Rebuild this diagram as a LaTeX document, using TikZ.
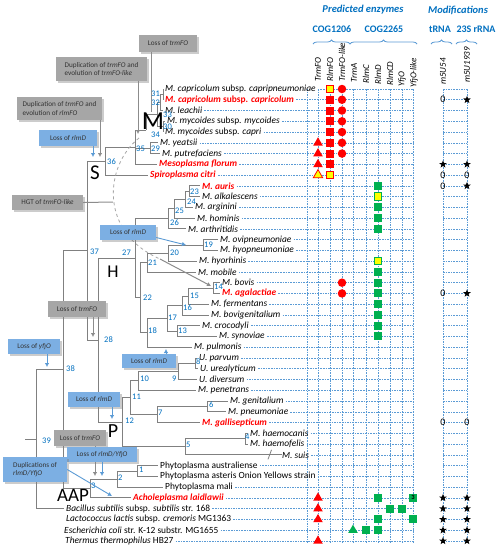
\documentclass[tikz,border=0pt]{standalone}
\usepackage{fontspec}
\setmainfont{Carlito}
\usetikzlibrary{shapes.geometric,arrows.meta,decorations.pathreplacing,shadows,calc}
\definecolor{gridblue}{RGB}{91,155,213}
\definecolor{numblue}{RGB}{0,112,192}
\definecolor{boxblue}{RGB}{124,175,227}
\definecolor{boxgray}{RGB}{166,166,166}
\definecolor{treegray}{RGB}{128,128,128}
\definecolor{sred}{RGB}{255,0,0}
\definecolor{sgreen}{RGB}{0,176,80}
\definecolor{syellow}{RGB}{255,255,0}
\newcommand{\RY}[1]{\fpeval{89+(#1-1)*10.76}}
\begin{document}
\begin{tikzpicture}[x=1pt,y=-1pt,
  sp/.style={anchor=west,inner sep=0pt,font=\fontsize{9.4}{10}\selectfont},
  spr/.style={sp,text=sred,font=\fontsize{9.4}{10}\selectfont\bfseries},
  num/.style={anchor=west,inner sep=0pt,text=numblue,font=\fontsize{8.5}{9}\selectfont},
  bigl/.style={inner sep=0pt,font=\fontsize{#1}{#1}\selectfont},
  tree/.style={draw=treegray,line width=0.8pt},
  rowline/.style={draw=gridblue,line width=0.6pt,dash pattern=on 1.6pt off 1pt},
  gbox/.style={fill=boxgray,text=black!80,font=\fontsize{7.2}{8.5}\selectfont,align=left,inner sep=0pt,drop shadow={shadow xshift=1.5pt,shadow yshift=-1.5pt,opacity=0.4}},
  bbox/.style={gbox,fill=boxblue},
  garr/.style={draw=gray!90,line width=1pt,-{Latex[length=4pt,width=4.5pt]}},
  gline/.style={draw=gray!90,line width=1pt},
  barr/.style={draw=gridblue,line width=0.9pt,-{Latex[length=4pt,width=4.5pt]}},
  hdr/.style={text=numblue,font=\fontsize{10}{11}\selectfont\bfseries,inner sep=0pt},
  colh/.style={rotate=90,anchor=west,inner sep=0pt,font=\fontsize{9}{10}\selectfont\itshape},
  rsq/.style={rectangle,fill=sred,inner sep=0pt,minimum size=8pt},
  gsq/.style={rectangle,fill=sgreen,inner sep=0pt,minimum size=8pt},
  ysqr/.style={rectangle,fill=syellow,draw=sred,line width=0.8pt,inner sep=0pt,minimum size=7.5pt},
  ysqg/.style={rectangle,fill=syellow,draw=sgreen,line width=1pt,inner sep=0pt,minimum size=7.5pt},
  rcirc/.style={circle,fill=sred,inner sep=0pt,minimum size=8.5pt},
  rtri/.style={regular polygon,regular polygon sides=3,fill=sred,inner sep=0pt,minimum size=11pt},
  gtri/.style={regular polygon,regular polygon sides=3,fill=sgreen,inner sep=0pt,minimum size=11pt},
  ytri/.style={regular polygon,regular polygon sides=3,fill=syellow,draw=sred,line width=0.8pt,inner sep=0pt,minimum size=11pt},
  bstar/.style={star,star points=5,star point ratio=2.4,fill=black,inner sep=0pt,minimum size=8pt},
  zero/.style={inner sep=0pt,font=\fontsize{10}{10}\selectfont}
]
\useasboundingbox (0,0) rectangle (499,550);
\fill[white] (0,0) rectangle (499,550);

% ---------- headers ----------
\node[hdr,font=\fontsize{10.5}{11}\selectfont\bfseries\itshape] (hpe) at (363,10) {Predicted enzymes};
\node[hdr,font=\fontsize{10.5}{11}\selectfont\bfseries\itshape] (hmo) at (458,10) {Modifications};
\node[hdr] (hc1) at (332,29) {COG1206};
\node[hdr] (hc2) at (384,29) {COG2265};
\node[hdr] (htr) at (440,29) {tRNA};
\node[hdr] (hrr) at (476,29) {23S rRNA};
\foreach \a/\b in {313/350,350/417,431/452,456/477}
  \draw[gridblue,line width=0.8pt,decorate,decoration={brace,amplitude=4pt}] (\a,44) -- (\b,44);

\node[colh] (c1) at (318,82) {TrmFO};
\node[colh] (c2) at (330,82) {RlmFO};
\node[colh] (c3) at (342,82) {TrmFO-like};
\node[colh] (c4) at (354,83) {TrmA};
\node[colh] (c5) at (366,84) {RlmC};
\node[colh] (c6) at (378,85) {RlmD};
\node[colh] (c7) at (390,86) {RlmCD};
\node[colh] (c8) at (402,87) {YfjO};
\node[colh] (c9) at (414,88) {YfjO-like};
\node[colh] (c10) at (443,85) {m5U54};
\node[colh] (c11) at (467,83) {m5U1939};

% ---------- grids ----------
\coordinate (gR) at (413,0);
\foreach \x in {307,318,330,342,353,366,378,390,402,413}
  \draw[rowline] (\x,89) -- (\x,544);
\foreach \x in {443,467}
  \draw[rowline] (\x,89) -- (\x,544);
\foreach \r in {1,...,43}
  \draw[rowline] (443,\RY{\r}) -- (467,\RY{\r});

% ---------- species ----------
\node[sp] (s1) at (165,\RY{1}) {\textit{M. capricolum} subsp. \textit{capripneumoniae}};
\node[spr] (s2) at (165,\RY{2}) {\textit{M. capricolum} subsp. \textit{capricolum}};
\node[sp] (s3) at (165,\RY{3}) {\textit{M. leachii}};
\node[sp] (s4) at (167,\RY{4}) {\textit{M. mycoides} subsp. \textit{mycoides}};
\node[sp] (s5) at (165,\RY{5}) {\textit{M. mycoides} subsp. \textit{capri}};
\node[sp] (s6) at (160,\RY{6}) {\textit{M. yeatsii}};
\node[sp] (s7) at (162,\RY{7}) {\textit{M. putrefaciens}};
\node[spr] (s8) at (159,\RY{8}) {\textit{Mesoplasma florum}};
\node[spr] (s9) at (150,\RY{9}) {\textit{Spiroplasma citri}};
\node[spr] (s10) at (202,\RY{10}) {\textit{M. auris}};
\node[sp] (s11) at (202,\RY{11}) {\textit{M. alkalescens}};
\node[sp] (s12) at (195,\RY{12}) {\textit{M. arginini}};
\node[sp] (s13) at (197,\RY{13}) {\textit{M. hominis}};
\node[sp] (s14) at (188,\RY{14}) {\textit{M. arthritidis}};
\node[sp] (s15) at (220,\RY{15}) {\textit{M. ovipneumoniae}};
\node[sp] (s16) at (220,\RY{16}) {\textit{M. hyopneumoniae}};
\node[sp] (s17) at (199,\RY{17}) {\textit{M. hyorhinis}};
\node[sp] (s18) at (198,\RY{18}) {\textit{M. mobile}};
\node[sp] (s19) at (222,\RY{19}) {\textit{M. bovis}};
\node[spr] (s20) at (222,\RY{20}) {\textit{M. agalactiae}};
\node[sp] (s21) at (211,\RY{21}) {\textit{M. fermentans}};
\node[sp] (s22) at (211,\RY{22}) {\textit{M. bovigenitalium}};
\node[sp] (s23) at (202,\RY{23}) {\textit{M. crocodyli}};
\node[sp] (s24) at (219,\RY{24}) {\textit{M. synoviae}};
\node[sp] (s25) at (194,\RY{25}) {\textit{M. pulmonis}};
\node[sp] (s26) at (199,\RY{26}) {\textit{U. parvum}};
\node[sp] (s27) at (200,\RY{27}) {\textit{U. urealyticum}};
\node[sp] (s28) at (199,\RY{28}) {\textit{U. diversum}};
\node[sp] (s29) at (198,\RY{29}) {\textit{M. penetrans}};
\node[sp] (s30) at (230,\RY{30}) {\textit{M. genitalium}};
\node[sp] (s31) at (228,\RY{31}) {\textit{M. pneumoniae}};
\node[spr] (s32) at (202,\RY{32}) {\textit{M. gallisepticum}};
\node[sp] (s33) at (250,\RY{33}) {\textit{M. haemocanis}};
\node[sp] (s34) at (250,\RY{34}) {\textit{M. haemofelis}};
\node[sp] (s35) at (282,\RY{35}) {\textit{M. suis}};
\node[sp] (s36) at (160,\RY{36}) {Phytoplasma australiense};
\node[sp] (s37) at (160,\RY{37}) {Phytoplasma asteris Onion Yellows strain};
\node[sp] (s38) at (165,\RY{38}) {Phytoplasma mali};
\node[spr] (s39) at (133,\RY{39}) {\textit{Acholeplasma laidlawii}};
\node[sp] (s40) at (66,\RY{40}) {\textit{Bacillus subtilis} subsp. \textit{subtilis} str. 168};
\node[sp] (s41) at (66,\RY{41}) {\textit{Lactococcus lactis} subsp. \textit{cremoris} MG1363};
\node[sp] (s42) at (64,\RY{42}) {\textit{Escherichia coli} str. K-12 substr. MG1655};
\node[sp] (s43) at (65,\RY{43}) {\textit{Thermus thermophilus} HB27};

\foreach \r in {1,...,43}
  \draw[rowline] ([xshift=2pt]s\r.east) -- (s\r.east -| gR);

% ---------- tree internal nodes ----------
\coordinate (n31) at (163,94.38);
\coordinate (n32) at (160,102.45);
\coordinate (n30) at (163,126.66);
\coordinate (n33) at (157,114.56);
\coordinate (n34) at (146,130);
\coordinate (n29) at (150,148.18);
\coordinate (n35) at (135,147);
\coordinate (n36) at (105,161.04);
\coordinate (n23) at (189,191.22);
\coordinate (n24) at (185,199.29);
\coordinate (n25) at (174,208.7);
\coordinate (n26) at (168,218.79);
\coordinate (n19) at (203,245.02);
\coordinate (n20) at (168,253.09);
\coordinate (n21) at (147,262.5);
\coordinate (n14) at (213,288.06);
\coordinate (n15) at (188,296.13);
\coordinate (n16) at (182,305.55);
\coordinate (n13) at (177,331.1);
\coordinate (n17) at (167,318.32);
\coordinate (n18) at (147,332.78);
\coordinate (n22) at (140,297.64);
\coordinate (n27) at (135,258.2);
\coordinate (n8) at (195,363.38);
\coordinate (n9) at (178,371.45);
\coordinate (n10) at (138,380.87);
\coordinate (n6) at (207,406.42);
\coordinate (n7) at (157,414.49);
\coordinate (n11) at (130,397.68);
\coordinate (n4) at (245,438.7);
\coordinate (n5) at (185,446.77);
\coordinate (n12) at (122,422.2);
\coordinate (n28) at (98,340.2);
\coordinate (n37) at (87,250.6);
\coordinate (n1) at (137,470.98);
\coordinate (n2) at (117,479.05);
\coordinate (n3) at (90,488.5);
\coordinate (n38) at (63,369.5);
\coordinate (n39) at (36,439.1);
\coordinate (nroot) at (25,439.1);

\begin{scope}[tree]
  \foreach \p/\c in {n31/s1,n31/s2,n32/s3,n30/s4,n30/s5,n29/s6,n29/s7,n35/s8,n36/s9,
     n23/s10,n23/s11,n24/s12,n25/s13,n26/s14,n19/s15,n19/s16,n20/s17,n21/s18,
     n14/s19,n14/s20,n15/s21,n16/s22,n13/s23,n13/s24,n18/s25,n8/s26,n8/s27,n9/s28,
     n10/s29,n6/s30,n6/s31,n7/s32,n4/s33,n4/s34,n1/s36,n1/s37,n2/s38,n3/s39,n39/s40}
    \draw (\p) |- ([xshift=-2pt]\c.west);
  \draw (n5) |- (s35.west);
  \foreach \p/\c in {n32/n31,n33/n32,n33/n30,n34/n33,n35/n34,n35/n29,n36/n35,n37/n36,n37/n28,
     n38/n37,n38/n3,n39/n38,n24/n23,n25/n24,n26/n25,n27/n26,n27/n22,n20/n19,n21/n20,
     n22/n21,n22/n18,n15/n14,n16/n15,n17/n16,n17/n13,n18/n17,n28/n27,n28/n12,
     n9/n8,n10/n9,n11/n10,n11/n7,n7/n6,n12/n11,n12/n5,n5/n4,n2/n1,n3/n2}
    \draw (\p) |- (\c);
  \draw (nroot) -- (n39);
  \draw (268,\RY{35}+4.5) -- (271.5,\RY{35}-5);
\end{scope}

% ---------- node numbers ----------
\foreach \t/\x/\y in {31/151/94,32/151/103,33/163/115,30/163/127,34/151/135,35/136/149,29/151/149,
  36/107/162,23/190/192,24/187/202,25/175/211,26/170/223,19/204/245,20/170/253,21/148/263,
  27/122/253,37/90/252,22/143/298,14/214/287,15/190/296,16/183/308,17/168/318,13/178/331,
  18/148/331,28/104/340,8/196/362,9/172/379,10/140/379,11/132/397,12/125/421,7/158/413,
  6/209/405,4/245/437,5/186/445,38/66/369,39/42/441,1/139/470,2/118/478,3/91/486}
  \node[num] (l\t) at (\x,\y) {\t};

% ---------- HGT path ----------
\coordinate (hg1) at (139,138);
\coordinate (hg2) at (113,202);
\coordinate (hg3) at (160,259);
\coordinate (hg4) at (211,286);
\draw[gray!70,line width=0.8pt,dashed] (hg1) .. controls (105,165) and (98,232) .. (hg3);
\draw[garr] (hg3) -- (hg4);

% ---------- annotation boxes ----------
\node[gbox,minimum width=58pt,minimum height=17pt,align=center] (G1) at (168,43.5) {Loss of \textit{trmFO}};
\node[gbox,minimum width=91pt,minimum height=24pt] (G2) at (101.5,69) {Duplication of \textit{trmFO} and\\evolution of \textit{trmFO-like}};
\node[gbox,minimum width=85pt,minimum height=23pt] (G3) at (59.5,108.5) {Duplication of \textit{trmFO} and\\evolution of \textit{rlmFO}};
\node[gbox,minimum width=71pt,minimum height=15pt,align=center] (G4) at (47.5,202.5) {HGT of \textit{trmFO-like}};
\node[gbox,minimum width=58pt,minimum height=16pt,align=center] (G5) at (77,309) {Loss of \textit{trmFO}};
\node[gbox,minimum width=52pt,minimum height=16pt,align=center] (G6) at (80,438) {Loss of \textit{trmFO}};

\coordinate (a1) at (151,112);
\coordinate (a2) at (138,134);
\coordinate (a3) at (100,157);
\coordinate (a4) at (93,157);
\coordinate (a5) at (186,245);
\coordinate (a6) at (93,337);
\coordinate (a7) at (166,349);
\coordinate (a8) at (47,367);
\coordinate (a9) at (112,419);
\coordinate (a10) at (95,476);
\coordinate (a11) at (102,476);
\coordinate (a12) at (112,496);

\draw[gline] (G1.south -| a1) -- (a1);
\draw[garr] (G2.south -| a2) -- (a2);
\draw[garr] (G3.south -| a3) -- (a3);
\draw[gline] (G4.east) -- (hg2);
\draw[garr] (G5.south -| a6) -- (a6);
\draw[garr] (G6.south -| a10) -- (a10);

\node[bbox,minimum width=58pt,minimum height=16pt,align=center] (B1) at (68,138) {Loss of \textit{rlmD}};
\node[bbox,minimum width=56pt,minimum height=15pt,align=center] (B2) at (128,232.5) {Loss of \textit{rlmD}};
\node[bbox,minimum width=54pt,minimum height=14pt,align=center] (B3) at (149,361) {Loss of \textit{rlmD}};
\node[bbox,minimum width=52pt,minimum height=15pt,align=center] (B4) at (34,346.5) {Loss of \textit{yfjO}};
\node[bbox,minimum width=52pt,minimum height=15pt,align=center] (B5) at (94,399.5) {Loss of \textit{rlmD}};
\node[bbox,minimum width=70pt,minimum height=15pt,align=center] (B6) at (102,454.5) {Loss of \textit{rlmD/YfjO}};
\node[bbox,minimum width=64pt,minimum height=25pt] (B7) at (35,469.5) {Duplications of\\\textit{rlmD/YfjO}};

\draw[barr] (B1.south -| a4) -- (a4);
\draw[barr] ([yshift=-5pt]B2.east) -- (a5);
\draw[barr] (B3.north -| a7) -- (a7);
\draw[barr] (B4.south -| a8) -- (a8);
\draw[barr] (B5.south -| a9) -- (a9);
\draw[barr] (B6.south -| a11) -- (a11);
\draw[barr] (B7.east) -- (a12);

% ---------- big clade letters ----------
\node[bigl=26] (LM) at (153,121) {M};
\node[bigl=21] (LS) at (95,173) {S};
\node[bigl=18] (LH) at (113,272) {H};
\node[bigl=20] (LP) at (113,431) {P};
\node[bigl=19] (LA) at (73,495) {AAP};

% ---------- enzyme symbols ----------
\foreach \r in {2,3,4,5,6,7,8} \node[rsq] (e\r b) at (330,\RY{\r}) {};
\node[ysqr] (e1b) at (330,\RY{1}) {};
\node[ysqr] (e9b) at (330,\RY{9}) {};
\foreach \r in {1,2,3,4,5,6,7,19,20} \node[rcirc] (e\r c) at (342,\RY{\r}) {};
\foreach \r in {6,7,8,39,40,41,43} \node[rtri] (e\r a) at (318,\RY{\r}) {};
\node[ytri] (e9a) at (318,\RY{9}) {};
\foreach \r in {10,12,13,14,18,19,20,21,22,23,24,39,41,42} \node[gsq] (e\r f) at (378,\RY{\r}) {};
\node[ysqg] (e11f) at (378,\RY{11}) {};
\node[ysqg] (e17f) at (378,\RY{17}) {};
\node[gsq,font=\fontsize{6.5}{7}\selectfont\bfseries] (e39i) at (413,\RY{39}) {3};
\node[gsq] (e41i) at (413,\RY{41}) {};
\node[gsq] (e40g) at (390,\RY{40}) {};
\node[gsq] (e40h) at (402,\RY{40}) {};
\node[gtri] (e42d) at (353,\RY{42}) {};
\node[gsq] (e42e) at (366,\RY{42}) {};

% ---------- modifications ----------
\foreach \r in {2,9,10,20,32} \node[zero] (m\r a) at (443,\RY{\r}) {0};
\foreach \r in {9,32} \node[zero] (m\r b) at (467,\RY{\r}) {0};
\foreach \r in {8,39,40,41,42,43} \node[bstar] (m\r a) at (443,\RY{\r}) {};
\foreach \r in {2,8,10,20,39,40,41,42,43} \node[bstar] (m\r b) at (467,\RY{\r}) {};
\end{tikzpicture}
\end{document}
